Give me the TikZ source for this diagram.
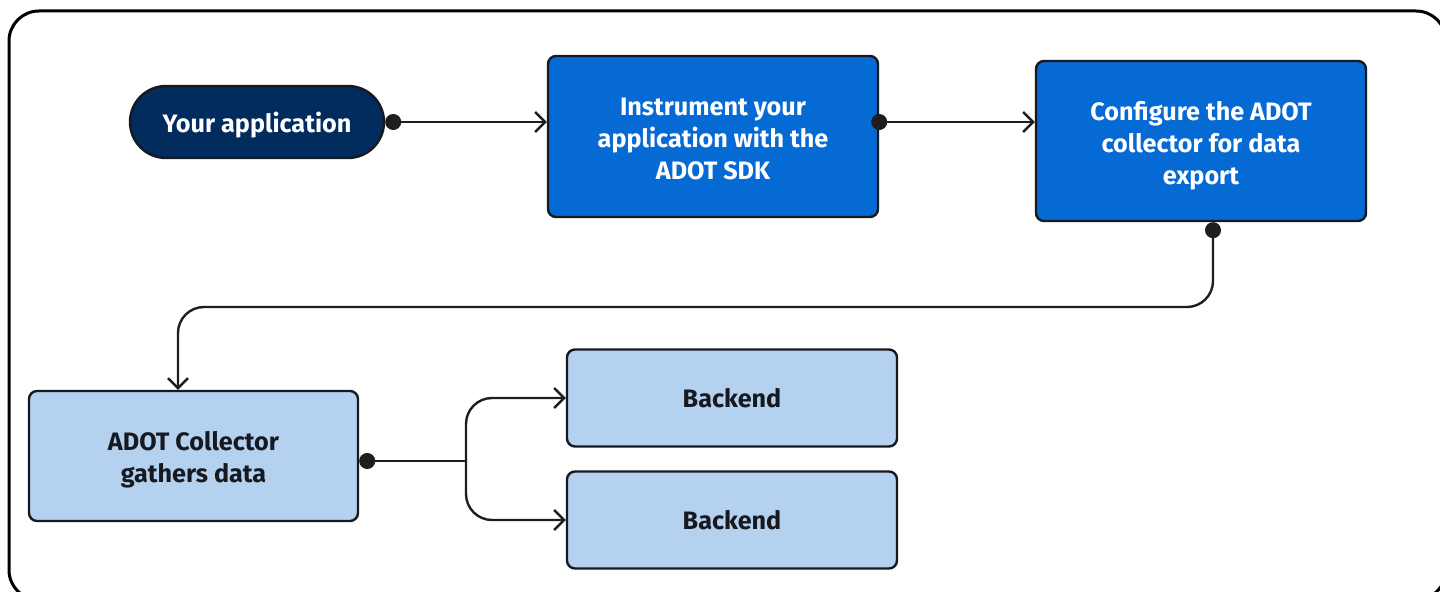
\documentclass[tikz,border=0pt]{standalone}
\usepackage{fontspec}
\setmainfont{Fira Sans}
\usetikzlibrary{arrows.meta}
\definecolor{navy}{RGB}{2,43,94}
\definecolor{midblue}{RGB}{5,106,211}
\definecolor{lightblue}{RGB}{180,209,239}
\definecolor{edge}{RGB}{22,25,31}
\definecolor{linec}{RGB}{30,30,30}
\newcommand{\lowertext}[2]{\raisebox{-#1}[\height][\depth]{#2}}
\tikzset{
  base/.style={draw=edge, line width=1.2pt, align=center, font=\bfseries\fontsize{12.6pt}{16pt}\selectfont, inner sep=0pt},
  darkbox/.style={base, fill=navy, text=white, rounded corners=18pt},
  bluebox/.style={base, fill=midblue, text=white, rounded corners=4pt},
  lightbox/.style={base, fill=lightblue, text=edge, rounded corners=4pt},
  conn/.style={draw=linec, line width=1.2pt, {Circle[length=8pt,width=8pt]}-{Straight Barb[length=5pt,width=10pt,line width=1.2pt]}},
  plainconn/.style={draw=linec, line width=1.2pt},
  barbconn/.style={draw=linec, line width=1.2pt, -{Straight Barb[length=5pt,width=10pt,line width=1.2pt]}},
}
\begin{document}
\begin{tikzpicture}[x=0.5pt,y=-0.5pt]
\useasboundingbox (0,0) rectangle (1440,592);
\begin{scope}
\clip (0,0) rectangle (1440,592);
\draw[line width=1.5pt, rounded corners=15pt] (9,11) rectangle (1446,600);
\end{scope}
\node[darkbox, minimum width=127pt, minimum height=36pt] (app) at (257,122) {\lowertext{1.5pt}{Your application}};
\node[bluebox, minimum width=165pt, minimum height=80.5pt] (inst) at (713,136.5) {\lowertext{2.5pt}{\begin{tabular}{@{}c@{}}Instrument your\\application with the\\ADOT SDK\end{tabular}}};
\node[bluebox, minimum width=165pt, minimum height=80pt] (conf) at (1201,141) {\lowertext{2.5pt}{\begin{tabular}{@{}c@{}}Configure the ADOT\\collector for data\\export\end{tabular}}};
\node[lightbox, minimum width=164.5pt, minimum height=65pt] (coll) at (193.5,456) {\lowertext{2pt}{\begin{tabular}{@{}c@{}}ADOT Collector\\gathers data\end{tabular}}};
\node[lightbox, minimum width=165pt, minimum height=48.5pt] (b1) at (732,398) {Backend};
\node[lightbox, minimum width=165pt, minimum height=48.5pt] (b2) at (732,520) {Backend};
\coordinate (mid) at (700,307);
\coordinate (fork) at (466,461);
\draw[conn] (app.east) -- (app.east -| inst.west);
\draw[conn, shorten <=-4pt] ([yshift=7.25pt]inst.east) -- ([yshift=7.25pt]inst.east -| conf.west);
\draw[conn, rounded corners=13pt] ([xshift=6pt]conf.south) |- (mid) -| ([xshift=-7.75pt]coll.north);
\draw[plainconn, {Circle[length=8pt,width=8pt]}-] ([yshift=-2.5pt]coll.east) -- (fork);
\draw[barbconn, rounded corners=13pt] (fork) |- (b1.west);
\draw[barbconn, rounded corners=13pt] (fork) |- (b2.west);
\end{tikzpicture}
\end{document}
